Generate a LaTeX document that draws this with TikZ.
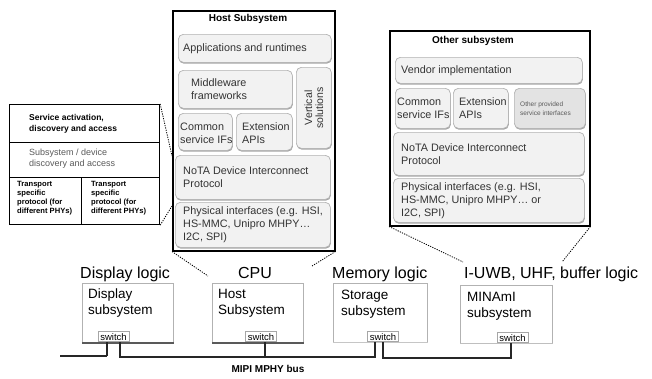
\documentclass[tikz,border=0pt]{standalone}
\usepackage{fontspec}
\setmainfont{Liberation Sans}
\usetikzlibrary{shadows}
\newcommand\myfs[2]{\fontsize{#1}{#2}\selectfont}
\begin{document}
\begin{tikzpicture}[x=1pt,y=-1pt,
  rbox/.style={draw=gray!60, fill=gray!10, rounded corners=5pt, line width=0.7pt,
    drop shadow={shadow xshift=0.5pt, shadow yshift=-1.3pt, fill=gray!70, opacity=1},
    anchor=north west, inner sep=0pt},
  bx/.style n args={4}{at={(#1,#2)}, minimum width=#3pt, minimum height=#4pt},
  tx/.style={anchor=west, align=left, inner sep=0pt, text=black!80, font=\myfs{10.8}{13}},
  outer/.style={draw=black, line width=1.5pt, anchor=north west, inner sep=0pt},
  sub/.style={draw=gray!60, line width=0.7pt, anchor=north west, inner sep=0pt},
  subtxt/.style={anchor=north west, align=left, inner sep=0pt, font=\myfs{13.5}{16}},
  sw/.style={draw=gray!70, fill=white, line width=0.6pt, inner sep=0pt, minimum width=31pt, minimum height=10pt, anchor=south, font=\myfs{9.5}{10}},
  lbl/.style={anchor=base west, inner sep=0pt, font=\myfs{16}{18}},
  bus/.style={line width=1.3pt, black!85},
  dotline/.style={line width=0.8pt, dash pattern=on 1.2pt off 1.2pt},
]
\useasboundingbox (0,0) rectangle (652,378);

% ---------- Host subsystem ----------
\node[outer, minimum width=162pt, minimum height=240pt] (hostbox) at (172,10) {};
\node[font=\bfseries\myfs{10}{12}, inner sep=0pt] (hosttitle) at (248,19) {Host Subsystem};
\node[rbox, bx={178}{34}{153}{28}] (apps) {};
\node[tx] (appsT) at ([xshift=5pt]apps.west) {Applications and runtimes};
\node[rbox, bx={178}{70}{114}{38}] (mid) {};
\node[tx] (midT) at ([xshift=13pt]mid.west) {Middleware\\frameworks};
\node[rbox, bx={296}{67}{35}{81}] (vert) {};
\node[rotate=90, align=center, inner sep=0pt, text=black!80, font=\myfs{10.5}{11}] (verttxt) at (vert.center) {Vertical\\solutions};
\node[rbox, bx={178}{113}{54}{37}] (common) {};
\node[tx] (commonT) at ([xshift=2pt,yshift=-1.5pt]common.west) {Common\\service IFs};
\node[rbox, bx={236}{113}{56}{37}] (ext) {};
\node[tx] (extT) at ([xshift=6pt,yshift=-1.5pt]ext.west) {Extension\\APIs};
\node[rbox, bx={175}{155}{155}{44}] (nota) {};
\node[tx] (notaT) at ([xshift=8pt]nota.west) {NoTA Device Interconnect\\Protocol};
\node[rbox, bx={175}{202}{155}{45}] (phys) {};
\node[tx] (physT) at ([xshift=8pt]phys.west) {Physical interfaces (e.g. HSI,\\HS-MMC, Unipro MHPY\dots\\I2C, SPI)};

% ---------- Other subsystem ----------
\node[outer, minimum width=200pt, minimum height=195pt] (othbox) at (389,30) {};
\node[font=\bfseries\myfs{10}{12}, inner sep=0pt] (othtitle) at (473,41) {Other subsystem};
\node[rbox, bx={395}{57}{187}{26}] (vendor) {};
\node[tx] (vendorT) at ([xshift=6pt]vendor.west) {Vendor implementation};
\node[rbox, bx={395}{88}{55}{40}] (ocommon) {};
\node[tx] (ocommonT) at ([xshift=2pt]ocommon.west) {Common\\service IFs};
\node[rbox, bx={453}{88}{55}{40}] (oext) {};
\node[tx] (oextT) at ([xshift=6pt]oext.west) {Extension\\APIs};
\node[rbox, bx={514}{88}{71}{40}, fill=gray!22] (oprov) {};
\node[tx, font=\myfs{6.5}{9}, text=black!65] (oprovT) at ([xshift=6pt]oprov.west) {Other provided\\service interfaces};
\node[rbox, bx={393}{132}{191}{43}] (onota) {};
\node[tx] (onotaT) at ([xshift=8pt]onota.west) {NoTA Device Interconnect\\Protocol};
\node[rbox, bx={393}{178}{191}{44}] (ophys) {};
\node[tx] (ophysT) at ([xshift=8pt]ophys.west) {Physical interfaces (e.g. HSI,\\HS-MMC, Unipro MHPY\dots{} or\\I2C, SPI)};

% ---------- Left detail box ----------
\node[outer, line width=1.2pt, minimum width=150pt, minimum height=120pt] (lbox) at (9,104) {};
\coordinate (r1w) at (9,142); \coordinate (r1e) at (159,142);
\coordinate (r2w) at (9,177); \coordinate (r2e) at (159,177);
\coordinate (cdt) at (81,177); \coordinate (cdb) at (81,224);
\draw[line width=1pt] (r1w) -- (r1e);
\draw[line width=1pt] (r2w) -- (r2e);
\draw[line width=1pt] (cdt) -- (cdb);
\node[anchor=west, align=left, inner sep=0pt, font=\bfseries\myfs{8.5}{10.5}] (svc) at (29,124) {Service activation,\\discovery and access};
\node[anchor=west, align=left, inner sep=0pt, text=black!65, font=\myfs{9}{11}] (subdisc) at (29,158.5) {Subsystem / device\\discovery and access};
\node[anchor=north west, align=left, inner sep=0pt, font=\bfseries\myfs{7.6}{9}] (tp1) at (17,181) {Transport\\specific\\protocol (for\\different PHYs)};
\node[anchor=north west, align=left, inner sep=0pt, font=\bfseries\myfs{7.6}{9}] (tp2) at (91,181) {Transport\\specific\\protocol (for\\different PHYs)};

% ---------- dotted zoom lines ----------
\coordinate (dl1) at (172,156);
\coordinate (dl2) at (172,206);
\coordinate (dh1) at (208,276);
\coordinate (dh2) at (312,266);
\coordinate (do1) at (463,262);
\coordinate (do2) at (562,262);
\draw[dotline] (lbox.north east) -- (dl1);
\draw[dotline] (lbox.south east) -- (dl2);
\draw[dotline] (hostbox.south west) -- (dh1);
\draw[dotline] (hostbox.south east) -- (dh2);
\draw[dotline] (othbox.south west) -- (do1);
\draw[dotline] (othbox.south east) -- (do2);

% ---------- labels ----------
\node[lbl] (ldisp) at (80,278) {Display logic};
\node[lbl, anchor=base] (lcpu) at (255,278) {CPU};
\node[lbl] (lmem) at (332,278) {Memory logic};
\node[lbl] (luwb) at (464,278) {I-UWB, UHF, buffer logic};

% ---------- subsystem boxes ----------
\node[sub, minimum width=91pt, minimum height=59pt] (disp) at (82,283) {};
\node[sub, minimum width=91pt, minimum height=59pt] (host) at (212,283) {};
\node[sub, minimum width=94pt, minimum height=59pt] (stor) at (333,283) {};
\node[sub, minimum width=92pt, minimum height=58pt] (mina) at (460,285) {};
\draw[line width=2pt, black!65] (disp.south west) -- (disp.south east);
\draw[line width=2pt, black!65] (host.south west) -- (host.south east);
\draw[line width=1.5pt, gray!45] (stor.south west) -- (stor.south east);
\draw[line width=1.2pt, gray!50] (mina.south west) -- (mina.south east);
\node[subtxt] (disptxt) at (88,289) {Display\\subsystem};
\node[subtxt] (hosttxt) at (218,289) {Host\\Subsystem};
\node[subtxt] (stortxt) at (341,290) {Storage\\subsystem};
\node[subtxt] (minatxt) at (467,292) {MINAmI\\subsystem};

\node[sw] (dsw) at (113.5,342) {switch};
\node[sw] (hsw) at (261,342) {switch};
\node[sw] (ssw) at (383,342) {switch};
\node[sw] (msw) at (512.5,343) {switch};

% ---------- bus ----------
\coordinate (busL) at (60,356);
\coordinate (b1) at (107,356);
\coordinate (b2) at (120,357);
\coordinate (b3) at (265,357);
\coordinate (b4) at (375,357);
\coordinate (b5) at (383,358);
\coordinate (b6) at (511,358);
\draw[bus] (busL) -- (b1);
\draw[bus, line width=2pt] (b1) -- (b1 |- dsw.south);
\draw[bus] (b2 |- dsw.south) -- (b2) -- (b4) -- (b4 |- ssw.south);
\draw[bus] (b3) -- (b3 |- hsw.south);
\draw[bus] (b5 |- ssw.south) -- (b5) -- (b6) -- (b6 |- msw.south);
\node[font=\bfseries\myfs{10}{12}, inner sep=0pt, anchor=base] (mipi) at (268,372) {MIPI MPHY bus};
\end{tikzpicture}
\end{document}
